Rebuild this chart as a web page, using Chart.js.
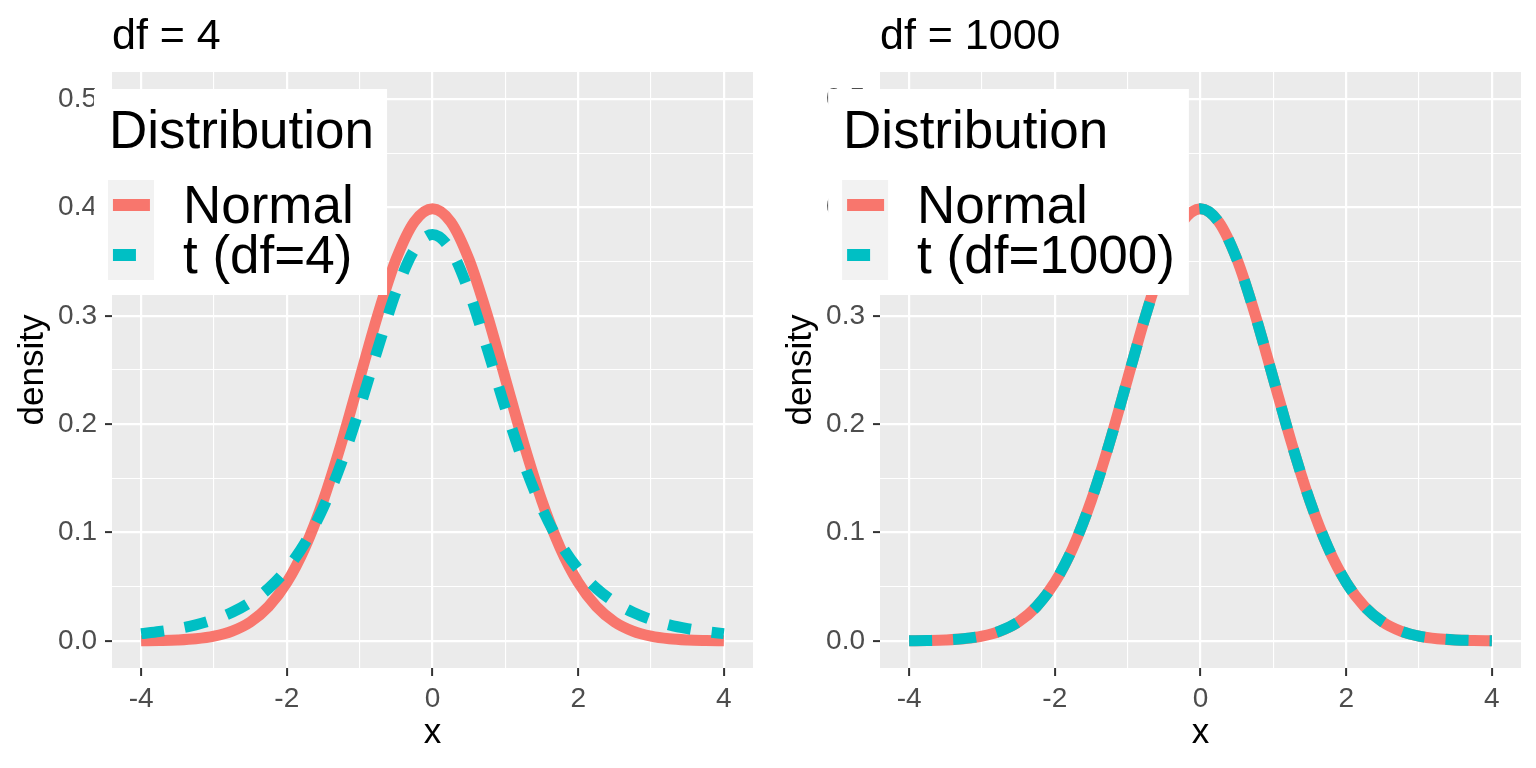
<!DOCTYPE html>
<html lang="en">
<head>
<meta charset="UTF-8">
<title>Normal vs t densities</title>
<script src="https://cdn.jsdelivr.net/npm/chart.js@4.4.0/dist/chart.umd.min.js"></script>
<style>
  body { margin: 0; background: #fff; }
  .wrap { display: flex; width: 1536px; height: 768px; }
  canvas { display: block; }
</style>
</head>
<body>
<div class="wrap">
  <canvas id="left" width="768" height="768"></canvas>
  <canvas id="right" width="768" height="768"></canvas>
</div>
<script>
// x grid for the density curves
var xValues = [-4, -3.75, -3.5, -3.25, -3, -2.75, -2.5, -2.25, -2, -1.75, -1.5, -1.25, -1, -0.75, -0.5, -0.25,
  0, 0.25, 0.5, 0.75, 1, 1.25, 1.5, 1.75, 2, 2.25, 2.5, 2.75, 3, 3.25, 3.5, 3.75, 4];

var normal = [0.0001, 0.0004, 0.0009, 0.0020, 0.0044, 0.0091, 0.0175, 0.0317, 0.0540, 0.0863, 0.1295, 0.1826, 0.2420, 0.3011, 0.3521, 0.3867,
  0.3989, 0.3867, 0.3521, 0.3011, 0.2420, 0.1826, 0.1295, 0.0863, 0.0540, 0.0317, 0.0175, 0.0091, 0.0044, 0.0020, 0.0009, 0.0004, 0.0001];

var tDf4 = [0.0067, 0.0087, 0.0113, 0.0148, 0.0197, 0.0264, 0.0357, 0.0485, 0.0663, 0.0905, 0.1229, 0.1644, 0.2147, 0.2699, 0.3223, 0.3608,
  0.3750, 0.3608, 0.3223, 0.2699, 0.2147, 0.1644, 0.1229, 0.0905, 0.0663, 0.0485, 0.0357, 0.0264, 0.0197, 0.0148, 0.0113, 0.0087, 0.0067];

var tDf1000 = [0.0001, 0.0004, 0.0009, 0.0021, 0.0045, 0.0092, 0.0176, 0.0318, 0.0541, 0.0864, 0.1296, 0.1826, 0.2420, 0.3010, 0.3520, 0.3866,
  0.3988, 0.3866, 0.3520, 0.3010, 0.2420, 0.1826, 0.1296, 0.0864, 0.0541, 0.0318, 0.0176, 0.0092, 0.0045, 0.0021, 0.0009, 0.0004, 0.0001];

var xTicks = [-4, -3, -2, -1, 0, 1, 2, 3, 4];
var yTicks = [0, 0.05, 0.1, 0.15, 0.2, 0.25, 0.3, 0.35, 0.4, 0.45, 0.5];

var FONT = '"Liberation Sans", Arial, sans-serif';
var RED = '#F8766D';
var CYAN = '#00BFC4';

function isMajorX(v) { return Math.abs(v % 2) < 1e-9; }
function isMajorY(v) { return Math.abs(Math.round(v * 10) - v * 10) < 1e-6; }

// grey panel, title and the legend box drawn inside the panel (ggplot style)
var ggPanel = {
  id: 'ggPanel',
  beforeDraw: function (chart) {
    var a = chart.chartArea, c = chart.ctx;
    c.save();
    c.fillStyle = '#EBEBEB';
    c.fillRect(a.left, a.top, a.right - a.left, a.bottom - a.top);
    c.restore();
  },
  afterDraw: function (chart, args, opts) {
    var c = chart.ctx;
    c.save();
    c.textBaseline = 'alphabetic';
    c.fillStyle = '#000';
    c.font = '43px ' + FONT;
    c.fillText(opts.title, chart.chartArea.left, 49);

    c.font = '53px ' + FONT;
    var titleW = c.measureText(opts.legendTitle).width;
    var labW = 0;
    for (var i = 0; i < opts.labels.length; i++) {
      labW = Math.max(labW, c.measureText(opts.labels[i].text).width);
    }
    var w = 14 + Math.max(titleW, 75 + labW) + 14;
    var left = 240.5 - w / 2, top = 89;
    c.fillStyle = '#fff';
    c.fillRect(left, top, w, 206);
    c.fillStyle = '#000';
    c.fillText(opts.legendTitle, left + 15, top + 59);
    c.fillStyle = '#F2F2F2';
    c.fillRect(left + 14, top + 91, 46, 100);
    for (var j = 0; j < opts.labels.length; j++) {
      var l = opts.labels[j];
      var cy = top + 116 + j * 50;
      c.strokeStyle = l.color;
      c.lineWidth = 12;
      c.lineCap = 'butt';
      c.setLineDash(l.dashed ? [23, 21] : []);
      c.beginPath();
      c.moveTo(left + 19, cy);
      c.lineTo(left + 56, cy);
      c.stroke();
      c.setLineDash([]);
      c.fillStyle = '#000';
      c.fillText(l.text, left + 89, cy + 18);
    }
    c.restore();
  }
};

function points(ys) {
  return xValues.map(function (x, i) { return { x: x, y: ys[i] }; });
}

function makeChart(id, title, tValues, tLabel) {
  return new Chart(document.getElementById(id), {
    type: 'line',
    data: {
      datasets: [
        {
          label: tLabel,
          data: points(tValues),
          borderColor: CYAN,
          borderWidth: 11,
          borderDash: [23, 21],
          pointRadius: 0,
          cubicInterpolationMode: 'monotone',
          order: 0
        },
        {
          label: 'Normal',
          data: points(normal),
          borderColor: RED,
          borderWidth: 11,
          pointRadius: 0,
          cubicInterpolationMode: 'monotone',
          order: 1
        }
      ]
    },
    options: {
      responsive: false,
      animation: false,
      layout: { padding: { top: 72, right: 15, left: 0, bottom: 0 } },
      plugins: {
        legend: { display: false },
        tooltip: { enabled: false },
        ggPanel: {
          title: title,
          legendTitle: 'Distribution',
          labels: [
            { text: 'Normal', color: RED, dashed: false },
            { text: tLabel, color: CYAN, dashed: true }
          ]
        }
      },
      scales: {
        x: {
          type: 'linear',
          min: -4.4,
          max: 4.4,
          afterBuildTicks: function (s) { s.ticks = xTicks.map(function (v) { return { value: v }; }); },
          afterFit: function (s) { s.height = 100; },
          border: { display: false },
          grid: {
            color: '#fff',
            lineWidth: function (ctx) { return ctx.tick && isMajorX(ctx.tick.value) ? 2.2 : 1.1; },
            tickColor: function (ctx) { return ctx.tick && isMajorX(ctx.tick.value) ? '#333333' : 'rgba(0,0,0,0)'; },
            tickLength: 8,
            tickWidth: 2
          },
          ticks: {
            autoSkip: false,
            maxRotation: 0,
            padding: 6,
            color: '#4D4D4D',
            font: { family: FONT, size: 28 },
            callback: function (v) { return isMajorX(v) ? String(v) : ''; }
          },
          title: { display: true, text: 'x', color: '#000', font: { family: FONT, size: 35 }, padding: { top: 0, bottom: 14 } }
        },
        y: {
          min: -0.025,
          max: 0.525,
          afterBuildTicks: function (s) { s.ticks = yTicks.map(function (v) { return { value: v }; }); },
          afterFit: function (s) { s.width = 112; },
          border: { display: false },
          grid: {
            color: '#fff',
            lineWidth: function (ctx) { return ctx.tick && isMajorY(ctx.tick.value) ? 2.2 : 1.1; },
            tickColor: function (ctx) { return ctx.tick && isMajorY(ctx.tick.value) ? '#333333' : 'rgba(0,0,0,0)'; },
            tickLength: 7,
            tickWidth: 2
          },
          ticks: {
            autoSkip: false,
            padding: 8,
            color: '#4D4D4D',
            font: { family: FONT, size: 28 },
            callback: function (v) { return isMajorY(v) ? v.toFixed(1) : ''; }
          },
          title: { display: true, text: 'density', color: '#000', font: { family: FONT, size: 35 }, padding: { top: 12, bottom: 0 } }
        }
      }
    },
    plugins: [ggPanel]
  });
}

makeChart('left', 'df = 4', tDf4, 't (df=4)');
makeChart('right', 'df = 1000', tDf1000, 't (df=1000)');
</script>
</body>
</html>
